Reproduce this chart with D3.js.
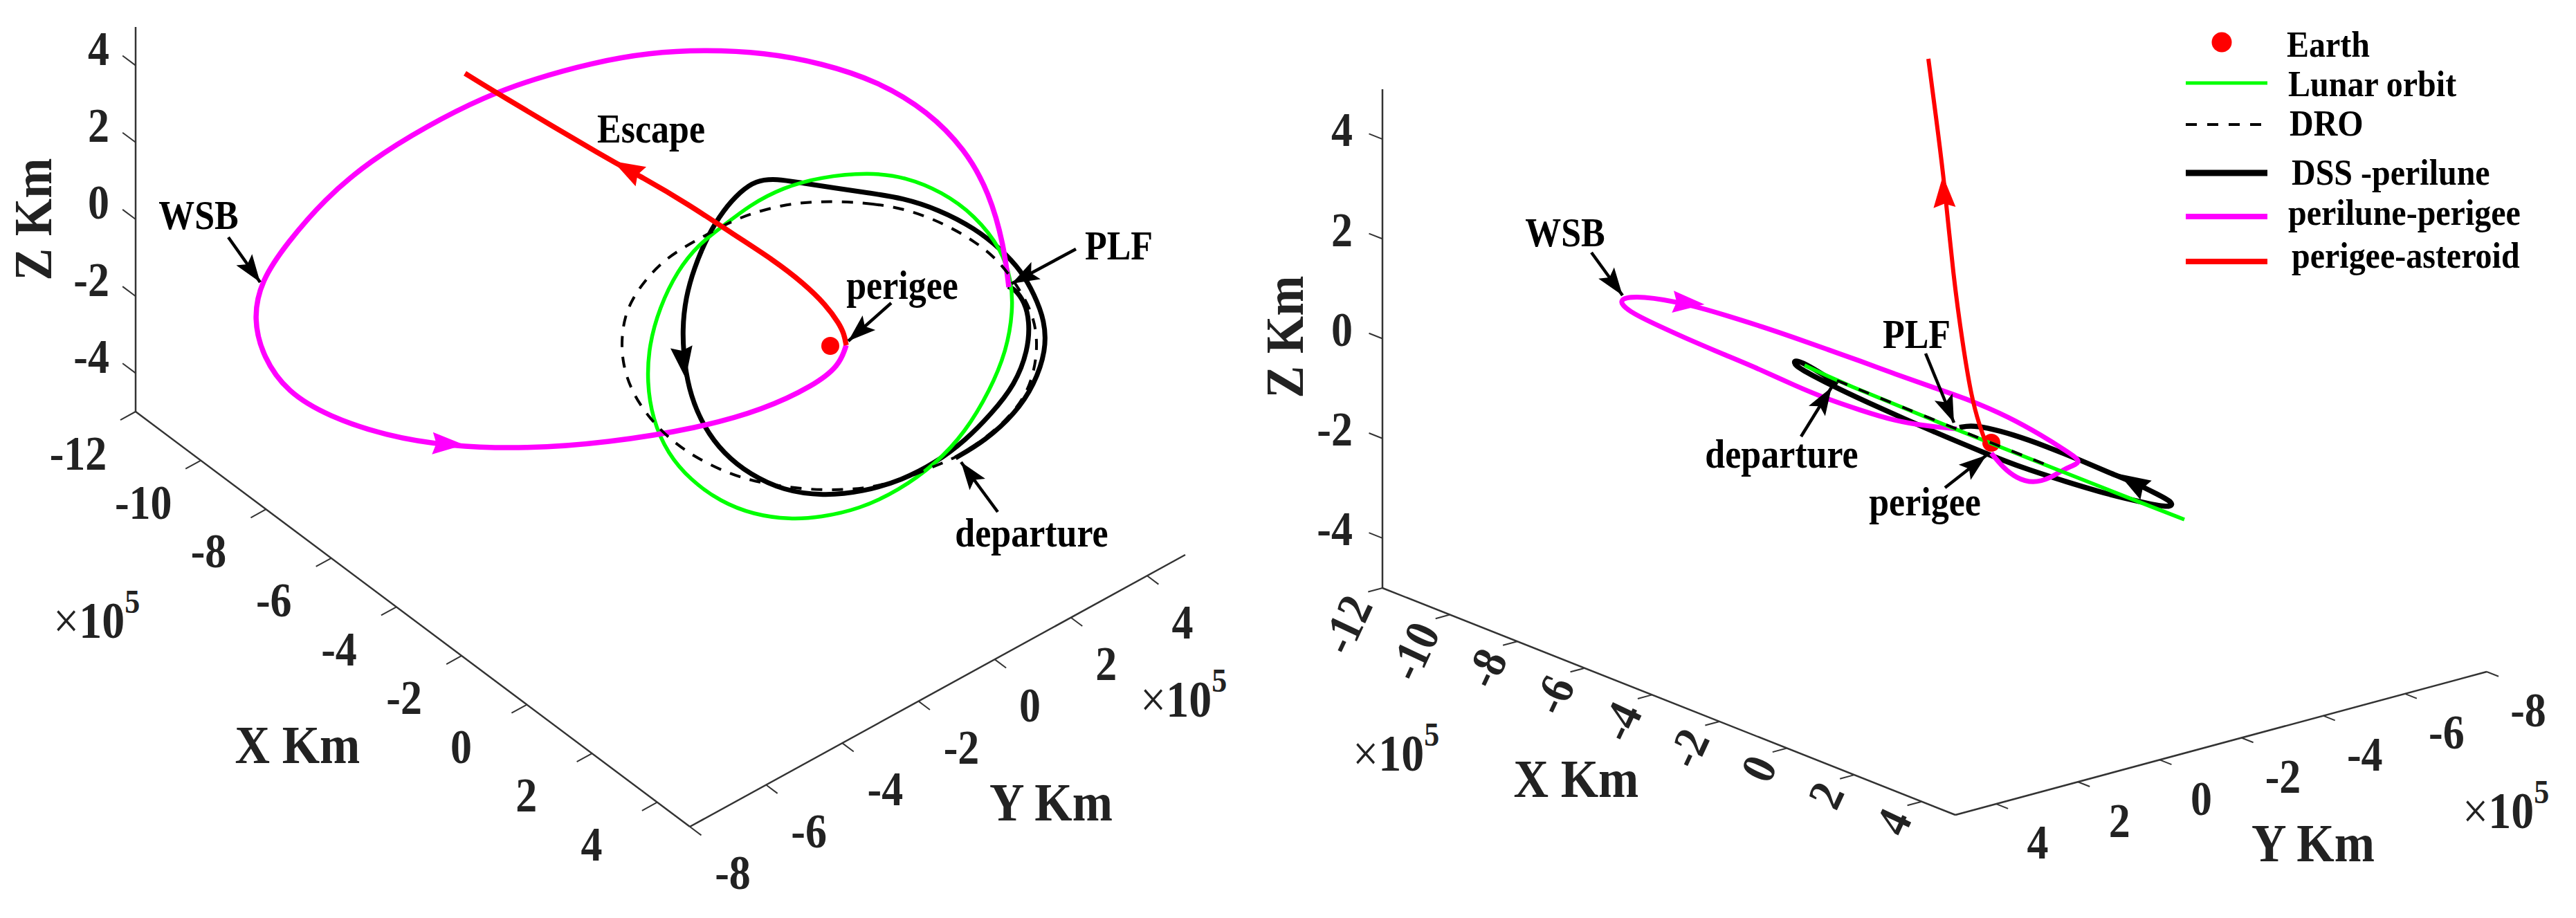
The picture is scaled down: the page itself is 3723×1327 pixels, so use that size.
<!DOCTYPE html>
<html>
<head>
<meta charset="utf-8">
<script src="https://d3js.org/d3.v7.min.js"></script>
<style>
  html, body { margin: 0; padding: 0; background: #fff; }
  svg { display: block; }
  text { font-family: "Liberation Serif", serif; font-weight: bold; }
</style>
</head>
<body>
<svg id="chart" width="3723" height="1327"></svg>
<script>
// axis tick values (x 10^5 km)
var xTicks = [-12, -10, -8, -6, -4, -2, 0, 2, 4];
var yTicks = [-8, -6, -4, -2, 0, 2, 4];
var zTicks = [-4, -2, 0, 2, 4];

var leftLunar = [[.56,2.51],[1.09,2.44],[1.61,2.23],[2.09,1.89],[2.48,1.39],[2.62,.93],[2.64,.51],[2.55,-.06],[2.31,-.64],[1.95,-1.25],[1.52,-1.71],[.99,-2.09],[.42,-2.36],[-.15,-2.48],[-.58,-2.51],[-1.11,-2.44],[-1.59,-2.25],[-2.02,-1.94],[-2.35,-1.56],[-2.57,-1.06],[-2.65,-.52],[-2.62,.01],[-2.47,.55],[-2.21,1.09],[-1.90,1.47],[-1.59,1.70],[-1.16,2.04],[-.68,2.29],[-.15,2.44]];
var leftDro = [[.09,2.09],[.61,2.06],[1.14,1.97],[1.66,1.76],[2.09,1.51],[2.43,1.24],[2.71,.86],[2.93,.47],[3.00,.05],[2.95,-.37],[2.81,-.75],[2.52,-1.10],[2.19,-1.37],[1.81,-1.62],[1.52,-1.73],[1.14,-1.90],[.66,-2.04],[.13,-2.09],[-.44,-2.07],[-1.01,-1.98],[-1.44,-1.86],[-1.92,-1.63],[-2.30,-1.37],[-2.64,-1.02],[-2.88,-.64],[-3.00,-.26],[-3.02,.09],[-2.97,.43],[-2.85,.70],[-2.66,.97],[-2.40,1.24],[-2.11,1.43],[-1.80,1.60],[-1.49,1.77],[-1.16,1.91],[-.68,2.04],[-.30,2.08]];
var leftDss = [[1.81,-1.62],[2.24,-1.37],[2.67,-.98],[2.95,-.56],[3.12,-.06],[3.10,.36],[2.95,.74],[2.76,1.085],[2.475,1.39],[2.09,1.70],[1.57,1.97],[1.04,2.14],[.56,2.21],[.085,2.28],[-.39,2.35],[-.78,2.42],[-1.08,2.39],[-1.30,2.23],[-1.54,1.97],[-1.78,1.58],[-1.97,1.12],[-2.09,.70],[-2.14,.24],[-2.11,-.26],[-2.02,-.72],[-1.83,-1.17],[-1.54,-1.56],[-1.16,-1.86],[-.68,-2.09],[-.11,-2.17],[.47,-2.11],[1.04,-1.94],[1.52,-1.69],[1.95,-1.37],[2.33,-.98],[2.67,-.56],[2.86,-.06],[2.88,.36],[2.81,.63],[2.67,.82],[2.57,.86]];
var leftPerilune = [[2.58,.85],[2.51,1.45],[2.30,2.21],[1.95,2.84],[1.41,3.39],[.70,3.82],[-.13,4.09],[-.96,4.24],[-1.79,4.28],[-2.62,4.24],[-3.45,4.09],[-4.28,3.86],[-5.00,3.60],[-5.83,3.18],[-6.66,2.67],[-7.31,2.12],[-7.85,1.49],[-8.23,.94],[-8.34,.39],[-8.20,-.16],[-7.85,-.67],[-7.25,-1.02],[-6.42,-1.30],[-5.53,-1.45],[-4.40,-1.49],[-3.22,-1.40],[-1.91,-1.19],[-.96,-.92],[-.25,-.58],[.13,-.29],[.23,.01]];
var leftEscape = [[.23,.01],[.20,.17],[.13,.32],[-.06,.59],[-.39,.91],[-.82,1.24],[-1.35,1.58],[-2.07,2.06],[-2.74,2.45],[-3.16,2.67],[-4.88,3.69],[-5.28,3.94]];

var rightLunar = [[-2.70,1.12],[-2.22,.89],[-.46,.17],[.98,-.40],[2.12,-.85],[2.79,-1.11]];
var rightDro = [[-2.23,.90],[-.46,.18],[.80,-.32]];
var rightDss = [[-2.22,.85],[-2.51,1.035],[-2.73,1.16],[-2.85,1.20],[-2.85,1.12],[-2.61,.985],[-2.22,.785],[-1.65,.52],[-.93,.20],[-.07,-.16],[.50,-.38],[1.07,-.56],[1.695,-.75],[2.27,-.88],[2.58,-.94],[2.64,-.87],[2.41,-.75],[2.08,-.58],[1.695,-.43],[1.31,-.26],[.79,-.05],[.31,.12],[-.07,.22],[-.31,.25],[-.46,.22]];
var rightPerilune = [[-.50,.20],[-.93,.24],[-1.41,.32],[-1.89,.47],[-2.37,.63],[-2.85,.83],[-3.32,1.05],[-3.80,1.25],[-4.28,1.45],[-4.83,1.70],[-5.25,1.90],[-5.42,2.08],[-5.07,2.13],[-4.36,2.00],[-3.80,1.83],[-3.32,1.68],[-2.85,1.52],[-2.37,1.35],[-1.89,1.18],[-1.41,1.00],[-.93,.83],[-.31,.62],[.26,.37],[.74,.10],[1.07,-.11],[1.28,-.25],[1.24,-.31],[1.05,-.38],[.86,-.51],[.60,-.59],[.36,-.51],[.17,-.36],[0,-.15]];
var rightEscape = [[-.05,-.08],[-.17,.24],[-.29,.67],[-.41,1.40],[-.55,2.40],[-.68,3.78],[-.80,4.71],[-.91,5.55]];

// flow arrows: [tail, tip] on the curves
var leftFlow = [
  ["#ff0000", [-2.74,2.45], [-3.14,2.67]],
  ["#000000", [-2.14,-.10], [-2.09,-.47]],
  ["#ff00ff", [-5.71,-1.41], [-5.29,-1.43]]
];
var rightFlow = [
  ["#ff0000", [-.68,3.48], [-.70,3.86]],
  ["#000000", [2.16,-.64], [1.84,-.45]],
  ["#ff00ff", [-4.50,2.03], [-4.145,2.00]]
];

var legendNames = ["Earth", "Lunar orbit", "DRO", "DSS -perilune", "perilune-perigee", "perigee-asteroid"];

var GREEN = "#00ff00", MAGENTA = "#ff00ff", RED = "#ff0000", INK = "#222";
var TALL = 1.12; // the lettering in the figure is a bit stretched upwards

var svg = d3.select("#chart");

function label(g, str, x, y, size, fill, anchor, turn) {
  return g.append("text")
    .attr("transform", "translate(" + x + "," + y + ") rotate(" + (turn || 0) + ") scale(1," + TALL + ")")
    .attr("dy", ".35em")
    .attr("text-anchor", anchor || "middle")
    .attr("font-size", size).attr("fill", fill || INK).text(str);
}

function arrowHead(g, from, to, len, wid, notch, fill) {
  var dx = to[0] - from[0], dy = to[1] - from[1], n = Math.sqrt(dx * dx + dy * dy);
  var ux = dx / n, uy = dy / n;
  var bx = to[0] - ux * len, by = to[1] - uy * len;
  g.append("path")
    .attr("d", d3.line()([
      to,
      [bx - uy * wid / 2, by + ux * wid / 2],
      [to[0] - ux * len * notch, to[1] - uy * len * notch],
      [bx + uy * wid / 2, by - ux * wid / 2]
    ]) + "Z")
    .attr("fill", fill);
}

function timesTen(g, x, y) {
  var t = g.append("text")
    .attr("transform", "translate(" + x + "," + y + ") scale(1," + TALL + ")")
    .attr("font-size", 66).attr("fill", INK);
  t.append("tspan").attr("font-weight", "normal").text("\u00d7");
  t.append("tspan").text("10");
  t.append("tspan").attr("dy", -32).attr("font-size", 44).text("5");
}

function drawPanel(p) {
  var g = svg.append("g");

  var xPos = d3.scaleLinear().domain([-12, 5]).range(p.xRange);
  var yPos = d3.scaleLinear().domain(p.yDomain).range(p.yRange);
  var zPos = d3.scaleLinear().domain([-5, 5]).range(p.zRange);

  // unit vectors of the box edges, ticks lean along these
  var ex = [(p.xRange[1][0] - p.xRange[0][0]) / 17, (p.xRange[1][1] - p.xRange[0][1]) / 17];
  var ey = [(yPos(1)[0] - yPos(0)[0]), (yPos(1)[1] - yPos(0)[1])];

  var axes = [
    { scale: xPos, ticks: xTicks, t: [-ey[0] * p.xTickDir, -ey[1] * p.xTickDir] },
    { scale: yPos, ticks: yTicks, t: [ex[0] * .35, ex[1] * .35] },
    { scale: zPos, ticks: zTicks, t: [-ex[0] * .4, -ex[1] * .4] }
  ];
  axes.forEach(function(a) {
    g.append("line")
      .attr("x1", a.scale.range()[0][0]).attr("y1", a.scale.range()[0][1])
      .attr("x2", a.scale.range()[1][0]).attr("y2", a.scale.range()[1][1])
      .attr("stroke", "#333").attr("stroke-width", 2.5);
    a.ticks.forEach(function(v) {
      var s = a.scale(v);
      g.append("line").attr("x1", s[0]).attr("y1", s[1])
        .attr("x2", s[0] + a.t[0]).attr("y2", s[1] + a.t[1])
        .attr("stroke", "#333").attr("stroke-width", 2);
    });
  });

  // tick labels
  xTicks.forEach(function(v) {
    var s = xPos(v);
    if (p.rotateX) {
      label(g, v, s[0] - 35, s[1] + 15, 62, INK, "end", -65);
    } else {
      label(g, v, s[0] - (v >= 0 ? 95 : 83), s[1] + 60, 62);
    }
  });
  yTicks.forEach(function(v) {
    var s = yPos(v);
    label(g, v, s[0] + p.yLabel[0] - (v >= 0 ? p.yShift : 0), s[1] + p.yLabel[1], 62);
  });
  zTicks.forEach(function(v) {
    var s = zPos(v);
    label(g, v, s[0] + p.zLabel[0], s[1] + p.zLabel[1], 62, INK, "end");
  });

  label(g, "X Km", p.xTitle[0], p.xTitle[1], 70);
  label(g, "Y Km", p.yTitle[0], p.yTitle[1], 70);
  label(g, "Z Km", p.zTitle[0], p.zTitle[1], 70, INK, "middle", -90);
  timesTen(g, p.xExp[0], p.xExp[1]);
  timesTen(g, p.yExp[0], p.yExp[1]);

  // view plane scales, Earth at 0,0
  var across = d3.scaleLinear().domain([-10, 10]).range([p.earth[0] - 1000, p.earth[0] + 1000]);
  var up = d3.scaleLinear().domain([-10, 10]).range([p.earth[1] + 1000, p.earth[1] - 1000]);
  var smooth = d3.line().x(function(d) { return across(d[0]); }).y(function(d) { return up(d[1]); })
    .curve(d3.curveBasis);
  var loop = d3.line().x(function(d) { return across(d[0]); }).y(function(d) { return up(d[1]); })
    .curve(d3.curveBasisClosed);

  g.append("circle").attr("cx", across(0)).attr("cy", up(0)).attr("r", 13).attr("fill", RED);

  p.curves.forEach(function(c) {
    g.append("path").attr("d", (c.closed ? loop : smooth)(c.data))
      .attr("fill", "none").attr("stroke", c.color).attr("stroke-width", c.width)
      .attr("stroke-dasharray", c.dash || null);
  });

  p.flow.forEach(function(f) {
    arrowHead(g, [across(f[1][0]), up(f[1][1])], [across(f[2][0]), up(f[2][1])], 46, 32, .88, f[0]);
  });

  // callouts
  p.notes.forEach(function(n) {
    label(g, n.name, n.at[0], n.at[1], 52, "#000");
    if (!n.from) return;
    g.append("line").attr("x1", n.from[0]).attr("y1", n.from[1]).attr("x2", n.to[0]).attr("y2", n.to[1])
      .attr("stroke", "#000").attr("stroke-width", 4.5);
    arrowHead(g, n.from, n.to, 40, 28, .8, "#000");
  });
}

drawPanel({
  xRange: [[196, 595], [997, 1195]],
  yDomain: [-8, 5],
  yRange: [[997, 1195], [1713, 802]],
  zRange: [[196, 595], [196, 39]],
  xTickDir: .4,
  yLabel: [62, 66],
  yShift: 11,
  zLabel: [-38, -25],
  xTitle: [430, 1076], yTitle: [1519, 1159], zTitle: [47, 317],
  xExp: [77, 922], yExp: [1648, 1036],
  earth: [1200, 500],
  curves: [
    { data: leftDss, color: "#000", width: 7 },
    { data: leftLunar, color: GREEN, width: 5.5, closed: true },
    { data: leftPerilune, color: MAGENTA, width: 7.5 },
    { data: leftDro, color: "#000", width: 4, dash: "16 14", closed: true },
    { data: leftEscape, color: RED, width: 7.5 }
  ],
  flow: leftFlow,
  notes: [
    { name: "WSB", at: [287, 311], from: [330, 343], to: [376, 408] },
    { name: "Escape", at: [941, 186] },
    { name: "perigee", at: [1304, 412], from: [1288, 438], to: [1226, 493] },
    { name: "PLF", at: [1617, 355], from: [1555, 360], to: [1462, 410] },
    { name: "departure", at: [1491, 770], from: [1442, 740], to: [1389, 668] }
  ]
});

drawPanel({
  xRange: [[1998, 850], [2826, 1178]],
  yDomain: [5, -8],
  yRange: [[2826, 1178], [3594, 971]],
  zRange: [[1998, 850], [1998, 129]],
  xTickDir: -.35,
  rotateX: true,
  yLabel: [60, 55],
  yShift: 0,
  zLabel: [-43, -14],
  xTitle: [2278, 1125], yTitle: [3343, 1218], zTitle: [1856, 487],
  xExp: [1955, 1114], yExp: [3559, 1197],
  earth: [2878, 640],
  curves: [
    { data: rightDss, color: "#000", width: 7.5 },
    { data: rightPerilune, color: MAGENTA, width: 7 },
    { data: rightLunar, color: GREEN, width: 5.5 },
    { data: rightDro, color: "#000", width: 4, dash: "16 18" },
    { data: rightEscape, color: RED, width: 6 }
  ],
  flow: rightFlow,
  notes: [
    { name: "WSB", at: [2262, 336], from: [2300, 365], to: [2345, 427] },
    { name: "PLF", at: [2770, 483], from: [2783, 511], to: [2824, 611] },
    { name: "departure", at: [2575, 656], from: [2603, 631], to: [2647, 560] },
    { name: "perigee", at: [2782, 725], from: [2811, 705], to: [2871, 658] }
  ]
});

// legend
var legendStyle = [
  { y: 63, tx: 3305, dot: true, ly: 61 },
  { y: 120, tx: 3307, color: GREEN, w: 5, ly: 120 },
  { y: 177, tx: 3309, color: "#000", w: 4, dash: "16 15", ly: 180 },
  { y: 248, tx: 3312, color: "#000", w: 9, ly: 250 },
  { y: 306, tx: 3307, color: MAGENTA, w: 8, ly: 313 },
  { y: 368, tx: 3312, color: RED, w: 8, ly: 378 }
];
var legend = svg.append("g");
legendNames.forEach(function(name, i) {
  var s = legendStyle[i];
  if (s.dot) {
    legend.append("circle").attr("cx", 3211).attr("cy", s.ly).attr("r", 14.5).attr("fill", RED);
  } else {
    legend.append("line").attr("x1", 3159).attr("x2", 3277).attr("y1", s.ly).attr("y2", s.ly)
      .attr("stroke", s.color).attr("stroke-width", s.w).attr("stroke-dasharray", s.dash || null);
  }
  label(legend, name, s.tx, s.y, 48, "#000", "start");
});
</script>
</body>
</html>
